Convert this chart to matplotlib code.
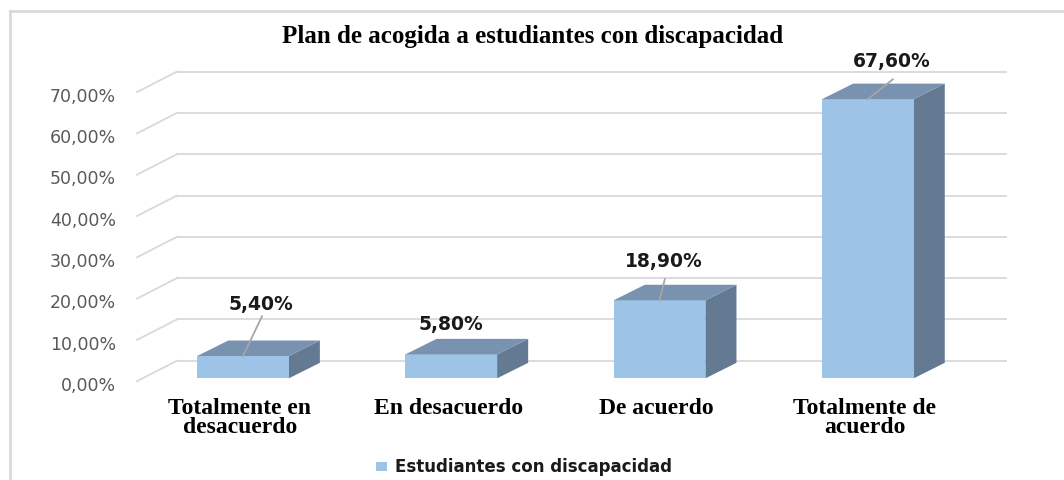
import matplotlib
matplotlib.use("Agg")
import matplotlib.pyplot as plt
from matplotlib.patches import Polygon, Rectangle
from matplotlib.lines import Line2D

# datos
categorias = ["Totalmente en\ndesacuerdo", "En desacuerdo", "De acuerdo", "Totalmente de\nacuerdo"]
valores = [5.4, 5.8, 18.9, 67.6]
etiquetas = ["5,40%", "5,80%", "18,90%", "67,60%"]
ticks = [0, 10, 20, 30, 40, 50, 60, 70]
tick_labels = ["0,00%", "10,00%", "20,00%", "30,00%", "40,00%", "50,00%", "60,00%", "70,00%"]
titulo = "Plan de acogida a estudiantes con discapacidad"
serie = "Estudiantes con discapacidad"

# colores
c_front = "#9DC3E6"
c_top = "#7892B0"
c_side = "#647A93"
c_grid = "#D9D9D9"

# geometria (unidades de datos)
ancho = 0.44
prof_x, prof_y = 0.149, 3.75       # profundidad de las barras
pared_x0, pared_x1 = -0.317, 3.663  # pared del fondo
pared_dy = 4.26
suelo_x, suelo_dy = -0.509, -0.70  # extremo delantero de las lineas oblicuas

# posiciones de las etiquetas de datos (desplazamientos), y lineas guia
lab_dx = [0.086, 0.0, 0.02, 0.115]
lab_dy = [12.6, 7.4, 9.6, 9.3]
guia_dy = [-3.0, 0, -4.5, -4.5]
guia = [True, False, True, True]

fig = plt.figure(figsize=(10.64, 4.81), dpi=100)
ax = fig.add_axes([0, 0, 1, 1])
ax.set_xlim(-1.1666, 3.9414)
ax.set_ylim(-24.62, 91.84)
ax.axis("off")

# marco exterior
fig.add_artist(Line2D([10 / 1064, 10 / 1064], [0, 1 - 12 / 481], transform=fig.transFigure,
                      color=c_grid, lw=2))
fig.add_artist(Line2D([10 / 1064, 1], [1 - 12 / 481, 1 - 12 / 481], transform=fig.transFigure,
                      color=c_grid, lw=2))

# rejilla
for t, lab in zip(ticks, tick_labels):
    yb = t + pared_dy
    ax.plot([pared_x0, pared_x1], [yb, yb], color=c_grid, lw=1.3, zorder=1)
    ax.plot([suelo_x, pared_x0], [t + suelo_dy, yb], color=c_grid, lw=1.3, zorder=1)
    ax.text(-0.61, t - 1.6, lab, ha="right", va="center", fontsize=12.5,
            color="#595959", family="DejaVu Sans")

# barras 3D
for i, v in enumerate(valores):
    x0 = i - ancho / 2
    x1 = i + ancho / 2
    frente = Rectangle((x0, 0), ancho, v, facecolor=c_front, edgecolor="none", zorder=3)
    arriba = Polygon([(x0, v), (x1, v), (x1 + prof_x, v + prof_y), (x0 + prof_x, v + prof_y)],
                     closed=True, facecolor=c_top, edgecolor="none", zorder=3)
    lado = Polygon([(x1, 0), (x1 + prof_x, prof_y), (x1 + prof_x, v + prof_y), (x1, v)],
                   closed=True, facecolor=c_side, edgecolor="none", zorder=3)
    ax.add_patch(lado)
    ax.add_patch(frente)
    ax.add_patch(arriba)

    lx = i + lab_dx[i]
    ly = v + lab_dy[i]
    ax.text(lx, ly, etiquetas[i], ha="center", va="center", fontsize=13.5,
            fontweight="bold", color="#1a1a1a", family="DejaVu Sans", zorder=5)
    if guia[i]:
        ax.plot([lx + 0.005, i], [ly + guia_dy[i], v], color="#A6A6A6",
                lw=1.3, zorder=4)

    ax.text(i - 0.015, -4.6, categorias[i], ha="center", va="top", fontsize=17,
            fontweight="bold", family="Liberation Serif", linespacing=0.85, color="black")

# titulo
fig.text(0.5005, 1 - 36 / 481, titulo, ha="center", va="center", fontsize=18,
         fontweight="bold", family="Liberation Serif", color="black")

# leyenda
fig.patches.append(Rectangle((376 / 1064, 1 - 472 / 481), 11 / 1064, 9 / 481,
                             transform=fig.transFigure, facecolor=c_front, edgecolor="none"))
fig.text(395 / 1064, 1 - 467 / 481, serie, ha="left", va="center", fontsize=12,
         fontweight="bold", family="DejaVu Sans", color="#1a1a1a")

fig.savefig("out.png", dpi=100)
